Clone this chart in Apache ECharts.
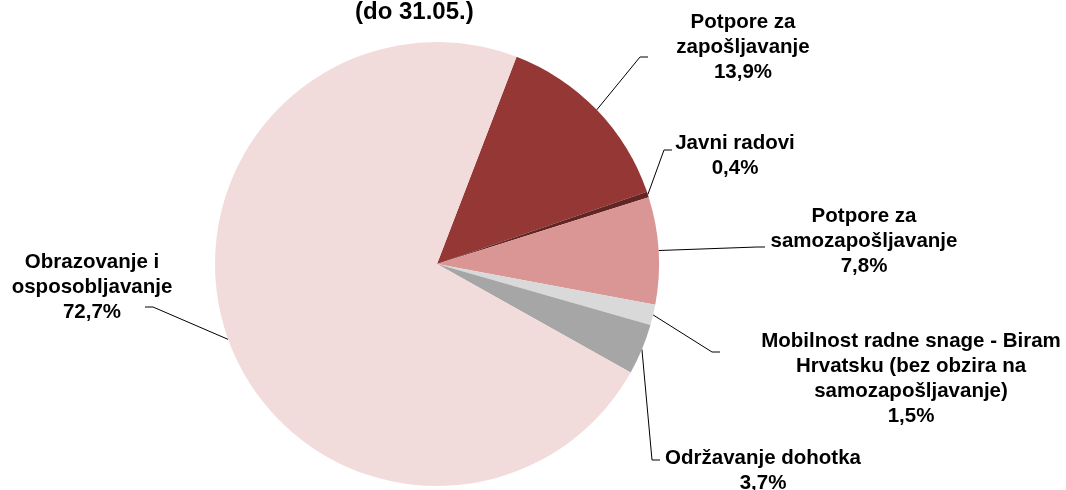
<!DOCTYPE html>
<html><head><meta charset="utf-8">
<script src="https://cdn.jsdelivr.net/npm/echarts@6/dist/echarts.min.js"></script>
<style>html,body{margin:0;padding:0;background:#fff}#c{width:1066px;height:490px}</style>
</head><body><div id="c"></div>
<script>
const categories = [
  'Potpore za zapošljavanje',
  'Javni radovi',
  'Potpore za samozapošljavanje',
  'Mobilnost radne snage - Biram Hrvatsku (bez obzira na samozapošljavanje)',
  'Održavanje dohotka',
  'Obrazovanje i osposobljavanje'
];
const values = [13.9, 0.4, 7.8, 1.5, 3.7, 72.7];
const labelLines = [
  ['Potpore za', 'zapošljavanje'],
  ['Javni radovi'],
  ['Potpore za', 'samozapošljavanje'],
  ['Mobilnost radne snage - Biram', 'Hrvatsku (bez obzira na', 'samozapošljavanje)'],
  ['Održavanje dohotka'],
  ['Obrazovanje i', 'osposobljavanje']
];
const colors = ['#953735', '#632523', '#D99694', '#D9D9D9', '#A6A6A6', '#F2DCDB'];
// label block centre (x,y) and leader end point (ax,ay); side: 1 = label right of line end, -1 = left
const labelPlace = [
  {x: 743, y: 47,  ax: 648, ay: 57,  side: 1},
  {x: 735, y: 156, ax: 672, ay: 150, side: 1},
  {x: 864, y: 241, ax: 765, ay: 247, side: 1},
  {x: 911, y: 379, ax: 720, ay: 352, side: 1},
  {x: 763, y: 471, ax: 660, ay: 460, side: 1},
  {x: 92,  y: 287, ax: 145, ay: 307, side: -1}
];
function fmt(v) { return v.toFixed(1).replace('.', ',') + '%'; }

const chart = echarts.init(document.getElementById('c'), null, {renderer: 'canvas'});
chart.setOption({
  animation: false,
  backgroundColor: '#fff',
  title: {
    text: '(do 31.05.)',
    left: 355, top: 0, padding: 0,
    textStyle: {fontFamily: 'Liberation Sans, Arial, sans-serif', fontSize: 24, fontWeight: 'bold', color: '#000'}
  },
  series: [{
    type: 'pie',
    center: [437, 264],
    radius: [0, 222],
    startAngle: 69,
    clockwise: true,
    avoidLabelOverlap: false,
    itemStyle: {borderWidth: 0},
    data: categories.map((n, i) => ({name: n, value: values[i], itemStyle: {color: colors[i]}})),
    label: {
      show: true,
      position: 'outside',
      formatter: p => labelLines[p.dataIndex].concat([fmt(p.value)]).join('\n'),
      fontFamily: 'Liberation Sans, Arial, sans-serif',
      fontSize: 20.5,
      fontWeight: 'bold',
      lineHeight: 25,
      color: '#000',
      align: 'center'
    },
    labelLine: {show: true, length: 10, length2: 10, lineStyle: {color: '#000', width: 1}},
    labelLayout: function (params) {
      const lp = labelPlace[params.dataIndex];
      const p0 = params.labelLinePoints ? params.labelLinePoints[0] : [lp.ax, lp.ay];
      return {
        x: lp.x, y: lp.y, align: 'center', verticalAlign: 'middle',
        labelLinePoints: [p0, [lp.ax - lp.side * 8, lp.ay], [lp.ax, lp.ay]]
      };
    },
    emphasis: {disabled: true}
  }]
});
</script>
</body></html>
